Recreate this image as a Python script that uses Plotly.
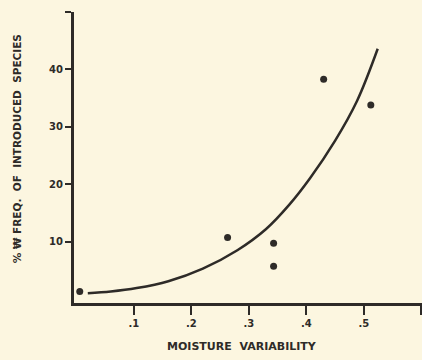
import plotly.graph_objects as go

# observed points
obs_x = [0.006, 0.263, 0.343, 0.343, 0.430, 0.512]
obs_y = [1.3, 10.7, 9.7, 5.7, 38.3, 33.8]

# fitted curve
fit_x = [0.02, 0.06, 0.105, 0.16, 0.22, 0.28, 0.33, 0.37, 0.406, 0.45, 0.488, 0.524]
fit_y = [1.0, 1.3, 1.9, 3.1, 5.3, 8.5, 12.2, 16.4, 21.0, 27.6, 34.5, 43.6]

x_ticks = [0.1, 0.2, 0.3, 0.4, 0.5, 0.6]
x_labels = [".1", ".2", ".3", ".4", ".5", ""]
y_ticks = [10, 20, 30, 40, 50]
y_labels = ["10", "20", "30", "40", ""]

ink = "#2e2b28"
bg = "#fcf6e0"
font = "DejaVu Sans"

fig = go.Figure()
fig.add_trace(go.Scatter(x=fit_x, y=fit_y, mode="lines",
                         line=dict(color=ink, width=2.5, shape="spline", smoothing=1.0),
                         hoverinfo="skip"))
fig.add_trace(go.Scatter(x=obs_x, y=obs_y, mode="markers", marker=dict(color=ink, size=7)))

fig.update_layout(
    width=422, height=360,
    margin=dict(l=74, r=0, t=12, b=57, autoexpand=False),
    paper_bgcolor=bg, plot_bgcolor=bg,
    showlegend=False,
    font=dict(family=font, color=ink, size=10),
)
fig.update_xaxes(range=[-0.004, 0.601], tickvals=x_ticks, ticktext=x_labels, automargin=False,
                 showgrid=False, zeroline=False, showline=True, linewidth=3, linecolor=ink,
                 ticks="outside", ticklen=9, tickwidth=2, tickcolor=ink,
                 tickfont=dict(family=font, size=10, color=ink, weight="bold"))
fig.update_yaxes(range=[-0.7, 50], tickvals=y_ticks, ticktext=y_labels, automargin=False,
                 showgrid=False, zeroline=False, showline=True, linewidth=3, linecolor=ink,
                 ticks="outside", ticklen=6, tickwidth=2, tickcolor=ink,
                 tickfont=dict(family=font, size=10, color=ink, weight="bold"))

fig.add_annotation(text="MOISTURE\u00a0\u00a0VARIABILITY", xref="paper", yref="paper",
                   x=0.484, y=-0.151, yanchor="middle", xanchor="center", showarrow=False,
                   font=dict(family=font, size=11, color=ink, weight="bold"))
fig.add_annotation(text="%\u00a0\u20a9\u00a0FREQ.\u00a0\u00a0OF\u00a0\u00a0INTRODUCED\u00a0\u00a0SPECIES",
                   xref="paper", yref="paper", x=-0.165, y=0.53, textangle=-90,
                   xanchor="center", yanchor="middle", showarrow=False,
                   font=dict(family=font, size=10.5, color=ink, weight="bold"))

fig.write_html("out.html", config={"displayModeBar": False},
               post_script="document.body.style.margin='0';document.body.style.overflow='hidden';"
                           "document.body.style.background='" + bg + "';")
